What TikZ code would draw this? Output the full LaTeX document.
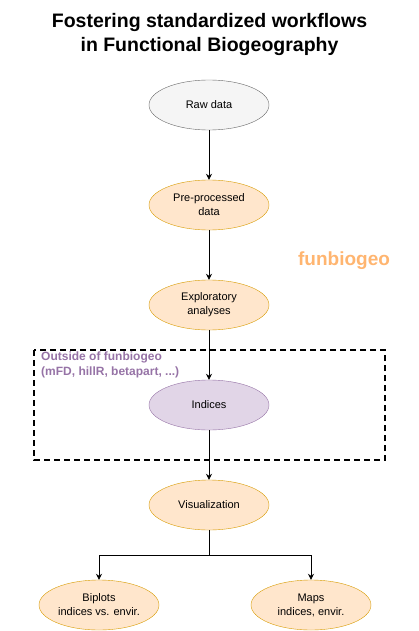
\documentclass[tikz,border=0pt]{standalone}
\usepackage{fontspec}
\setmainfont{Liberation Sans}
\usepackage{xcolor}
\usepackage{tikz}
\usetikzlibrary{shapes.geometric,arrows.meta}

\definecolor{rawfill}{HTML}{F5F5F5}
\definecolor{rawline}{HTML}{666666}
\definecolor{orfill}{HTML}{FFE6CC}
\definecolor{orline}{HTML}{D79B00}
\definecolor{pufill}{HTML}{E1D5E7}
\definecolor{puline}{HTML}{9673A6}
\definecolor{funorange}{HTML}{FFB570}

\tikzset{
  stage/.style={ellipse, draw=orline, fill=orfill, minimum width=120pt, minimum height=50pt,
    inner sep=0pt, align=center, font=\fontsize{11}{14}\selectfont},
  flow/.style={thick, -{Stealth[length=6pt,width=6pt]}}
}

\begin{document}
\begin{tikzpicture}[x=1pt,y=-1pt]
    \useasboundingbox (0,0) rectangle (419,631) ;
    \node at (209.5,35) (title) {\fontsize{19.5}{24}\selectfont\bfseries\begin{tabular}{c}Fostering standardized workflows\\in Functional Biogeography\end{tabular}} ;
    \node[stage, draw=rawline, fill=rawfill] at (209,105) (raw) {Raw data} ;
    \node[stage] at (209,205) (prep) {Pre-processed\\data} ;
    \node[stage] at (209,305) (explo) {Exploratory\\analyses} ;
    \node[stage, draw=puline, fill=pufill] at (209,405) (ind) {Indices} ;
    \node[stage] at (209,505) (visu) {Visualization} ;
    \node[stage] at (99,605) (bip) {Biplots\\indices vs. envir.} ;
    \node[stage] at (311,605) (maps) {Maps\\indices, envir.} ;
    \node[anchor=center, text=funorange, font=\fontsize{19}{22}\selectfont\bfseries] at (344,261) (fun) {funbiogeo} ;
    \draw[line width=1.5pt, dash pattern=on 6pt off 4pt] (34,350) rectangle (385,460) ;
    \node[anchor=north west, align=left, inner sep=0pt, text=puline, font=\fontsize{12}{14.5}\selectfont\bfseries] at (41,352) (outside) {Outside of funbiogeo\\(mFD, hillR, betapart, ...)} ;
    \draw[flow] (raw) -- (prep) ;
    \draw[flow] (prep) -- (explo) ;
    \draw[flow] (explo) -- (ind) ;
    \draw[flow] (ind) -- (visu) ;
    \draw[flow] (visu.south) -- ++(0,25) -| (bip.north) ;
    \draw[flow] (visu.south) -- ++(0,25) -| (maps.north) ;
  \end{tikzpicture}
\end{document}
